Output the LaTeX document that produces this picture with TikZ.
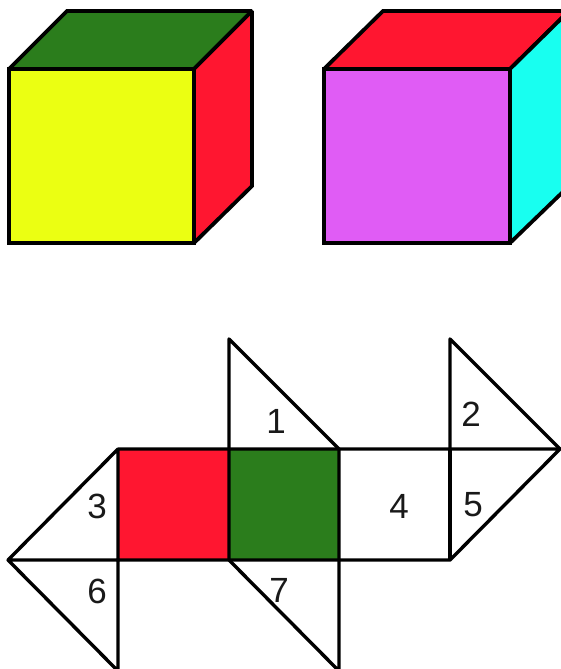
\documentclass[tikz,border=0pt]{standalone}
\usepackage{fontspec}
\setmainfont{Liberation Sans}
\definecolor{cy}{RGB}{235,255,18}
\definecolor{cg}{RGB}{43,125,28}
\definecolor{cr}{RGB}{255,22,48}
\definecolor{cp}{RGB}{224,92,245}
\definecolor{cc}{RGB}{24,255,240}
\tikzset{face/.style={draw=black,line width=3.8pt,line join=miter,miter limit=2},
  netline/.style={draw=black,line width=3.4pt,line join=round},
  num/.style={font=\fontsize{35}{35}\selectfont,text=black!90,inner sep=0pt}}
\begin{document}
\begin{tikzpicture}[x=1pt,y=-1pt]
\path[use as bounding box] (0,0) rectangle (561,669);
\clip (0,0) rectangle (561,669);
% left cube
\path[face,fill=cg] (9,69) -- (67,11) -- (252,11) -- (194,69) -- cycle;
\path[face,fill=cr] (194,69) -- (252,11) -- (252,186) -- (194,243) -- cycle;
\path[face,fill=cy] (9,69) rectangle (194,243);
% right cube
\path[face,fill=cr] (324,69) -- (383,11) -- (569,11) -- (510,69) -- cycle;
\path[face,fill=cc] (510,69) -- (569,11) -- (569,186) -- (510,243) -- cycle;
\path[face,fill=cp] (324,69) rectangle (510,243);
% net
\coordinate (A) at (118,449); \coordinate (B) at (229,449); \coordinate (C) at (339,449);
\coordinate (D) at (450,449); \coordinate (E) at (560,449);
\coordinate (F) at (8,560); \coordinate (G) at (118,560); \coordinate (H) at (229,560);
\coordinate (I) at (339,560); \coordinate (J) at (450,560);
\coordinate (K) at (229,339); \coordinate (L) at (450,339);
\coordinate (M) at (118,671); \coordinate (N) at (339,671);
\path[fill=cr] (A) rectangle (H);
\path[fill=cg] (B) rectangle (I);
\path[netline] (A) -- (E) -- (J) -- (F) -- (A) -- (M) -- (F);
\path[netline] (H) -- (N) -- (C) -- (K) -- (H);
\path[netline] (D) -- (L) -- (E);
\path[netline] (D) -- (J);
\node[num] (n1) at (276,421) {1};
\node[num] (n2) at (471,414) {2};
\node[num] (n3) at (97,506) {3};
\node[num] (n4) at (399,506) {4};
\node[num] (n5) at (473,505) {5};
\node[num] (n6) at (97,591) {6};
\node[num] (n7) at (279,590) {7};
\end{tikzpicture}
\end{document}
